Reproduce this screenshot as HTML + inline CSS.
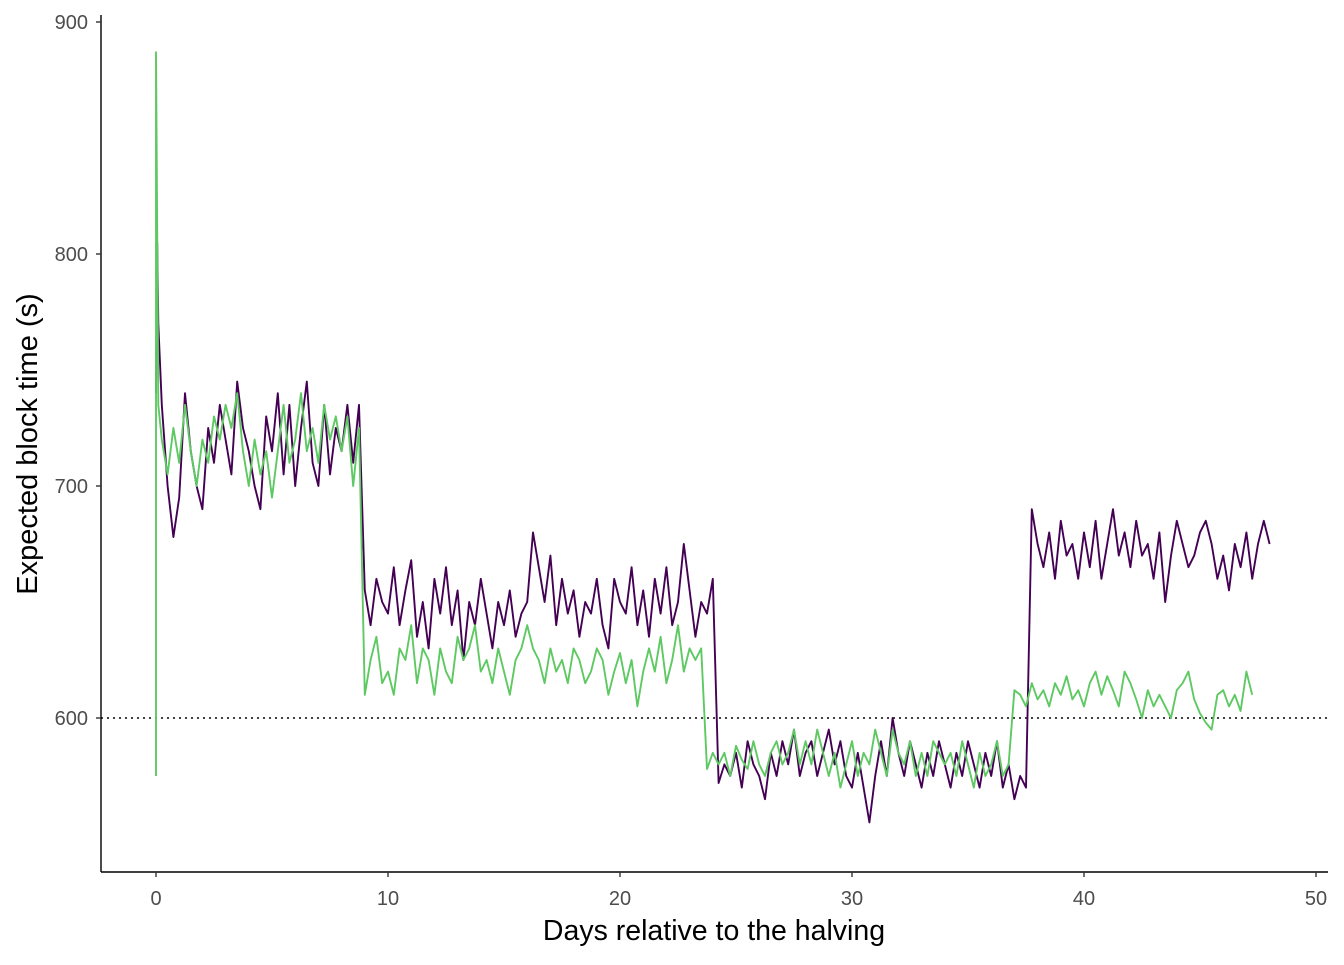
<!DOCTYPE html>
<html><head><meta charset="utf-8"><style>
body{margin:0;background:#fff;}
svg text{font-family:"Liberation Sans",Arial,sans-serif;}
</style></head><body>
<svg id="chart" width="1344" height="960" xmlns="http://www.w3.org/2000/svg">
<rect width="1344" height="960" fill="#fff"/>
<g id="grid"></g>
<g id="series"></g>
<g id="axes"></g>
<text x="714" y="940" text-anchor="middle" font-size="28.5" fill="#000">Days relative to the halving</text>
<text transform="translate(37,444) rotate(-90)" text-anchor="middle" font-size="29" fill="#000">Expected block time (s)</text>
</svg>
<script>
const xTicks=[0,10,20,30,40,50];
const yTicks=[600,700,800,900];
const refValue=600;
const step=0.25;
const purpleSpikeDays=[0,0.05,0.1];
const purpleSpikeVals=[740,805,770];
const purpleVals=[735,700,678,695,740,715,700,690,725,710,735,720,705,745,725,715,700,690,730,715,740,705,735,700,725,745,710,700,735,705,725,715,735,710,735,655,
640,660,650,645,665,640,655,668,635,650,630,660,645,665,640,655,625,650,640,660,645,630,650,640,655,635,645,650,680,665,650,670,640,660,645,655,635,650,645,660,640,630,660,650,645,665,640,655,635,660,645,665,640,650,675,655,635,650,645,660,
572,580,575,585,570,590,580,575,565,585,575,590,580,595,575,585,590,575,585,595,580,590,575,570,585,570,555,575,590,575,600,585,575,590,580,570,585,575,590,580,570,585,575,590,580,570,585,575,590,570,580,565,575,570,
690,675,665,680,660,685,670,675,660,680,665,685,660,675,690,670,680,665,685,670,675,660,680,650,670,685,675,665,670,680,685,675,660,670,655,675,665,680,660,675,685,675];
const greenSpikeDays=[0,0,0.05,0.1];
const greenSpikeVals=[575,887,810,735];
const greenVals=[720,705,725,710,735,715,700,720,710,730,720,735,725,740,715,700,720,705,715,695,715,735,710,720,740,715,725,710,735,720,730,715,730,700,725,610,
625,635,615,620,610,630,625,640,615,630,625,610,630,620,615,635,625,630,640,620,625,615,630,620,610,625,630,640,630,625,615,630,620,625,615,630,625,615,620,630,625,610,620,628,615,625,605,620,630,620,635,615,625,640,620,630,625,630,578,585,
580,585,575,588,582,578,590,580,575,585,590,580,585,595,580,590,580,595,585,575,585,570,580,590,575,585,580,595,585,575,595,585,580,590,575,585,575,590,585,580,585,575,590,580,570,585,575,580,590,575,580,612,
610,605,615,608,612,605,615,610,618,608,612,605,615,620,610,618,612,605,620,615,608,600,612,605,610,605,600,612,615,620,608,602,598,595,610,612,605,610,603,620,610];

const X0=101,X1=1328,Y0=15,Y1=872;
const xs=d=>156+d*23.2;
const ys=v=>718-(v-600)*2.32;
const NS='http://www.w3.org/2000/svg';
function mk(tag,attrs,parent){const e=document.createElementNS(NS,tag);for(const k in attrs)e.setAttribute(k,attrs[k]);parent.appendChild(e);return e;}
const grid=document.getElementById('grid'),ser=document.getElementById('series'),ax=document.getElementById('axes');
const ref=mk('line',{x1:X0,x2:X1,y1:ys(refValue),y2:ys(refValue),stroke:'#000','stroke-width':1.6,'stroke-dasharray':'2,4'},grid);


function drawSeries(sd,sv,vals,color,name){
  const pts=[];
  sd.forEach((d,i)=>pts.push([d,sv[i]]));
  vals.forEach((v,i)=>pts.push([(i+1)*step,v]));
  const p=mk('polyline',{points:pts.map(q=>xs(q[0]).toFixed(1)+','+ys(q[1]).toFixed(1)).join(' '),fill:'none',stroke:color,'stroke-width':1.9,'stroke-linejoin':'round'},ser);
  
  
}
drawSeries(purpleSpikeDays,purpleSpikeVals,purpleVals,'#440154','series-purple');
drawSeries(greenSpikeDays,greenSpikeVals,greenVals,'#5ec962','series-green');
const ya=mk('line',{x1:X0,x2:X0,y1:Y0,y2:Y1,stroke:'#000','stroke-width':1.4},ax);


const xa=mk('line',{x1:X0,x2:X1,y1:Y1,y2:Y1,stroke:'#000','stroke-width':1.4},ax);


yTicks.forEach(t=>{
  mk('line',{x1:X0-5,x2:X0,y1:ys(t),y2:ys(t),stroke:'#333','stroke-width':1.4},ax);
  const tx=mk('text',{x:X0-13,y:ys(t)+7,'text-anchor':'end','font-size':20,fill:'#4d4d4d'},ax);
  tx.textContent=t;
  
  
});
xTicks.forEach(t=>{
  mk('line',{x1:xs(t),x2:xs(t),y1:Y1,y2:Y1+5,stroke:'#333','stroke-width':1.4},ax);
  const tx=mk('text',{x:xs(t),y:Y1+33,'text-anchor':'middle','font-size':20,fill:'#4d4d4d'},ax);
  tx.textContent=t;
  
  
});
</script>
</body></html>
